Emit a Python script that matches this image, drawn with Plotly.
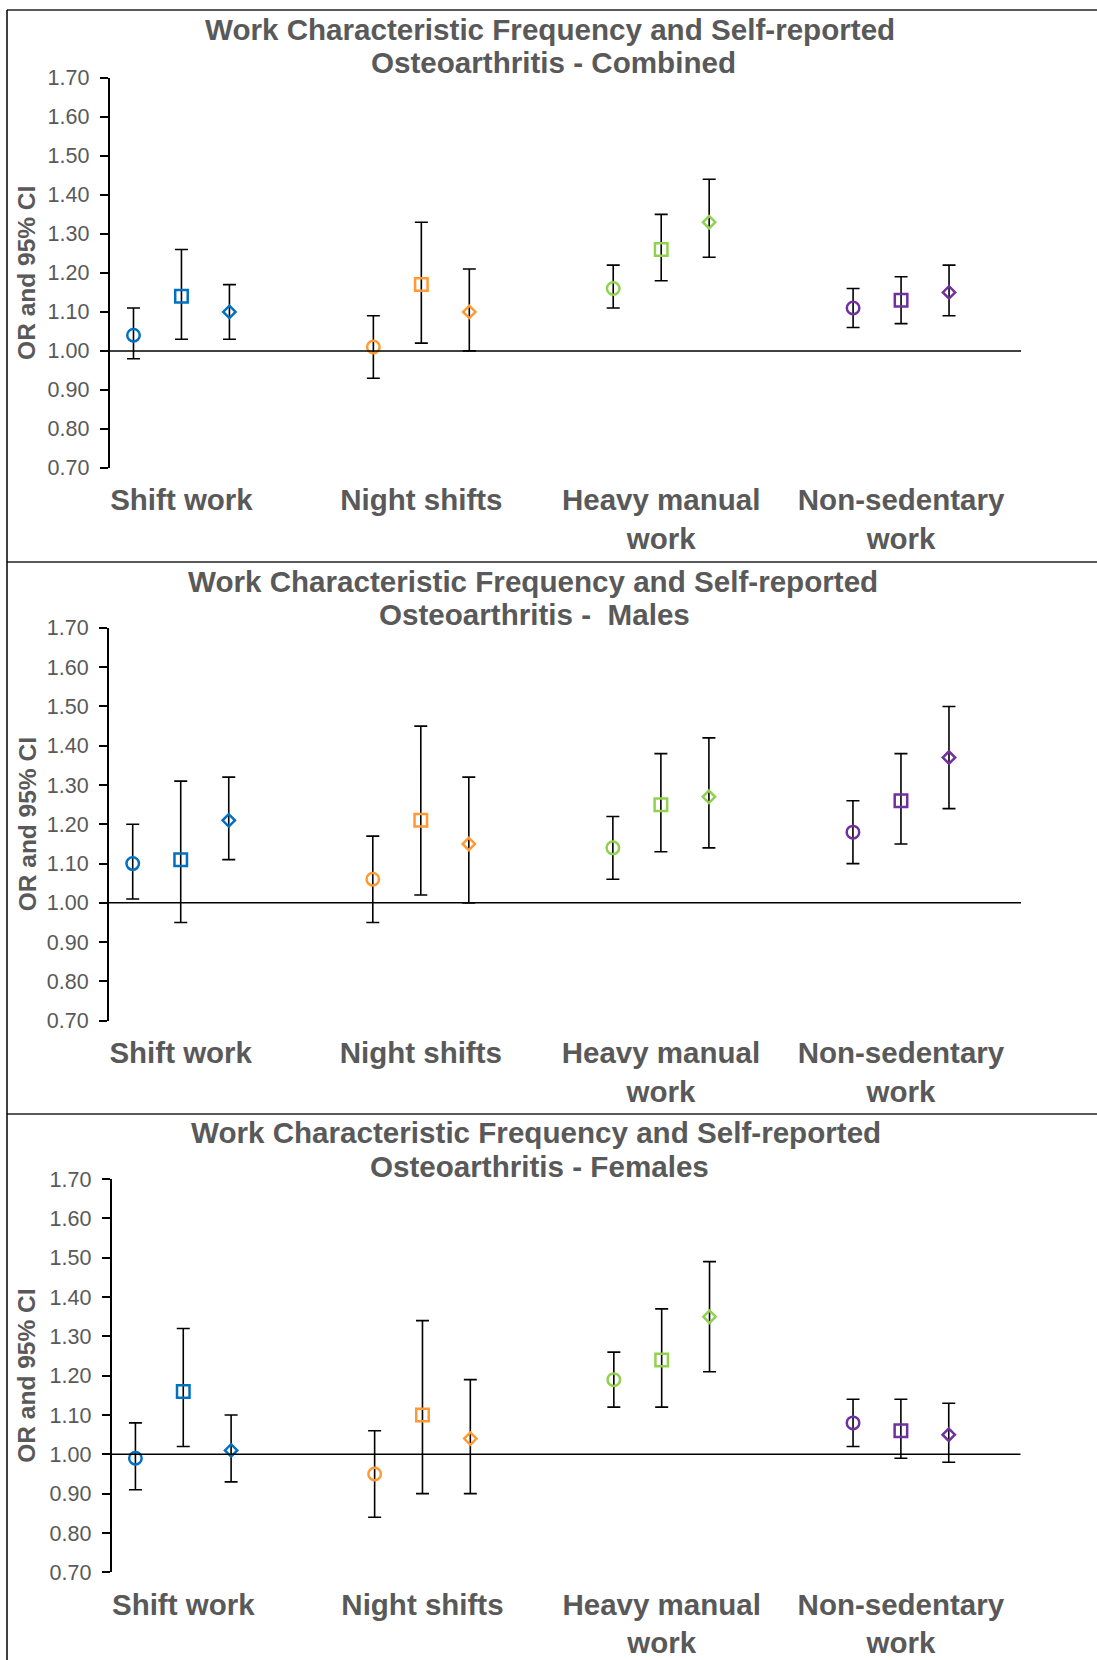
import numpy as np
import plotly.graph_objects as go

# ---------------- data ----------------
categories = ["Shift work", "Night shifts", "Heavy manual work", "Non-sedentary work"]
tick_labels = ["Shift work", "Night shifts", "Heavy manual<br>work", "Non-sedentary<br>work"]
series_names = ["Frequency group 1", "Frequency group 2", "Frequency group 3"]
panel_titles = [
    ("Work Characteristic Frequency and Self-reported", "Osteoarthritis - Combined"),
    ("Work Characteristic Frequency and Self-reported", "Osteoarthritis -\u00a0 Males"),
    ("Work Characteristic Frequency and Self-reported", "Osteoarthritis - Females"),
]
y_ticks = [0.70, 0.80, 0.90, 1.00, 1.10, 1.20, 1.30, 1.40, 1.50, 1.60, 1.70]

# Combined: rows = series (circle, square, diamond), columns = categories
combined_or = [[1.04, 1.01, 1.16, 1.11], [1.14, 1.17, 1.26, 1.13], [1.10, 1.10, 1.33, 1.15]]
combined_lo = [[0.98, 0.93, 1.11, 1.06], [1.03, 1.02, 1.18, 1.07], [1.03, 1.00, 1.24, 1.09]]
combined_hi = [[1.11, 1.09, 1.22, 1.16], [1.26, 1.33, 1.35, 1.19], [1.17, 1.21, 1.44, 1.22]]

# Males
males_or = [[1.10, 1.06, 1.14, 1.18], [1.11, 1.21, 1.25, 1.26], [1.21, 1.15, 1.27, 1.37]]
males_lo = [[1.01, 0.95, 1.06, 1.10], [0.95, 1.02, 1.13, 1.15], [1.11, 1.00, 1.14, 1.24]]
males_hi = [[1.20, 1.17, 1.22, 1.26], [1.31, 1.45, 1.38, 1.38], [1.32, 1.32, 1.42, 1.50]]

# Females
females_or = [[0.99, 0.95, 1.19, 1.08], [1.16, 1.10, 1.24, 1.06], [1.01, 1.04, 1.35, 1.05]]
females_lo = [[0.91, 0.84, 1.12, 1.02], [1.02, 0.90, 1.12, 0.99], [0.93, 0.90, 1.21, 0.98]]
females_hi = [[1.08, 1.06, 1.26, 1.14], [1.32, 1.34, 1.37, 1.14], [1.10, 1.19, 1.49, 1.13]]

panels = [
    (combined_or, combined_lo, combined_hi),
    (males_or, males_lo, males_hi),
    (females_or, females_lo, females_hi),
]

# ---------------- style ----------------
W, H = 1097, 1660
cat_colors = ["#0070C0", "#FF9933", "#92D050", "#7030A0"]
symbols = ["circle-open", "square-open", "diamond-open"]
marker_sizes = [12.5, 12.5, 9.5]
offsets = [-0.2, 0.0, 0.2]
TXT = "#595959"
FONT = "Liberation Sans, Arial, sans-serif"

x_dom_px = [(109.5, 1021.0), (108.7, 1021.0), (111.5, 1020.5)]
y_dom_px = [(77.9, 467.9), (627.9, 1020.7), (1179.1, 1572.3)]
title_y_px = [(29.3, 62.5), (581.4, 615.0), (1132.8, 1166.0)]
title_x_px = [(550.0, 553.0), (532.6, 534.0), (535.8, 539.0)]


def fx(p):
    return p / W


def fy(p):
    return 1 - p / H


fig = go.Figure()
layout_axes = {}
annotations = []
shapes = []

for i, (ors, los, his) in enumerate(panels):
    n = i + 1
    xa = "x" if n == 1 else f"x{n}"
    ya = "y" if n == 1 else f"y{n}"
    for s in range(3):
        y = np.array(ors[s])
        lo = np.array(los[s])
        hi = np.array(his[s])
        fig.add_trace(go.Scatter(
            x=np.arange(len(categories)) + offsets[s],
            y=y,
            mode="markers",
            name=series_names[s],
            showlegend=False,
            xaxis=xa, yaxis=ya,
            marker=dict(symbol=symbols[s], size=marker_sizes[s], color=cat_colors,
                        line=dict(width=2.5, color=cat_colors)),
            error_y=dict(type="data", symmetric=False, array=hi - y, arrayminus=y - lo,
                         color="black", thickness=1.6, width=6.5),
            customdata=np.array(categories),
            hovertemplate="%{customdata}<br>OR %{y:.2f}<extra></extra>",
        ))

    xk = "xaxis" if n == 1 else f"xaxis{n}"
    yk = "yaxis" if n == 1 else f"yaxis{n}"
    layout_axes[xk] = dict(
        domain=[fx(x_dom_px[i][0]), fx(x_dom_px[i][1])],
        anchor=ya, range=[-0.3, 3.5],
        tickmode="array", tickvals=list(range(len(categories))), ticktext=tick_labels,
        ticks="", showline=False, showgrid=False, zeroline=False,
        tickfont=dict(family=FONT, size=29.5, color=TXT, weight="bold"),
        ticklabelstandoff=12, automargin=False, fixedrange=True,
    )
    layout_axes[yk] = dict(
        domain=[fy(y_dom_px[i][1]), fy(y_dom_px[i][0])],
        anchor=xa, range=[0.7, 1.7],
        tickmode="array", tickvals=y_ticks, tickformat=".2f",
        ticks="outside", ticklen=8, tickwidth=1.5, tickcolor="black",
        showline=True, linecolor="black", linewidth=1.5,
        showgrid=False, zeroline=False,
        tickfont=dict(family=FONT, size=21.5, color=TXT),
        ticklabelstandoff=6, automargin=False, fixedrange=True,
    )
    # reference line at OR = 1.00
    shapes.append(dict(type="line", xref=f"{xa} domain", yref=ya, x0=0, x1=1, y0=1.0, y1=1.0,
                       line=dict(color="black", width=1.5)))
    # y axis title
    annotations.append(dict(
        text="<b>OR and 95% CI</b>", textangle=-90, xref="paper", yref="paper",
        x=fx(27), y=fy((y_dom_px[i][0] + y_dom_px[i][1]) / 2),
        xanchor="center", yanchor="middle", showarrow=False,
        font=dict(family=FONT, size=24.5, color=TXT),
    ))
    # panel title (two lines)
    for ln in range(2):
        annotations.append(dict(
            text=f"<b>{panel_titles[i][ln]}</b>", xref="paper", yref="paper",
            x=fx(title_x_px[i][ln]), y=fy(title_y_px[i][ln]),
            xanchor="center", yanchor="middle", showarrow=False,
            font=dict(family=FONT, size=29.6, color=TXT),
        ))

# panel borders
for yb in [10, 562, 1114]:
    shapes.append(dict(type="line", xref="paper", yref="paper", x0=fx(7), x1=1.0,
                       y0=fy(yb), y1=fy(yb), line=dict(color="#595959", width=2)))
shapes.append(dict(type="line", xref="paper", yref="paper", x0=fx(7), x1=fx(7),
                   y0=0, y1=fy(10), line=dict(color="black", width=1.5)))

fig.update_layout(
    width=W, height=H, autosize=False,
    margin=dict(l=0, r=0, t=0, b=0, pad=0),
    paper_bgcolor="white", plot_bgcolor="white",
    template="none", showlegend=False,
    annotations=annotations, shapes=shapes,
    **layout_axes,
)

fig.write_html("out.html",
               config={"displayModeBar": False},
               post_script="document.body.style.margin='0';document.body.style.overflow='hidden';")
